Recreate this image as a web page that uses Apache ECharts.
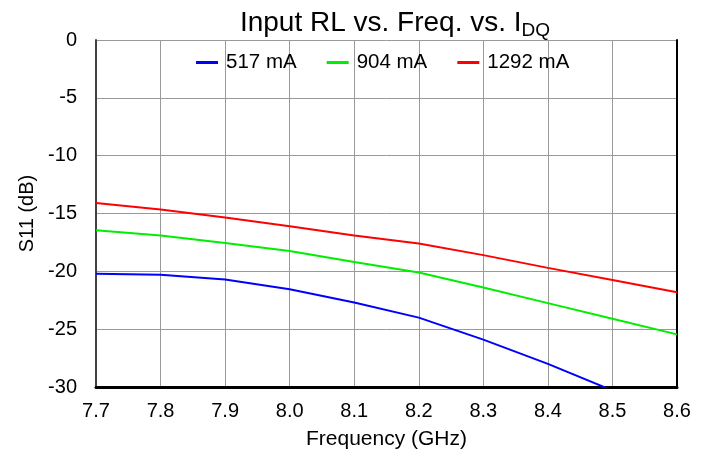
<!DOCTYPE html>
<html><head><meta charset="utf-8">
<script src="https://cdn.jsdelivr.net/npm/echarts@6/dist/echarts.min.js"></script>
<style>html,body{margin:0;padding:0;background:#fff}#c{width:708px;height:455px}</style>
</head><body><div id="c"></div>
<script>
const freqs = ['7.7','7.8','7.9','8.0','8.1','8.2','8.3','8.4','8.5','8.6'];
const s517 = [-20.2,-20.3,-20.7,-21.55,-22.7,-24.0,-25.9,-28.0,-30.3,-32.6];
const s904 = [-16.45,-16.9,-17.55,-18.25,-19.2,-20.1,-21.4,-22.75,-24.1,-25.45];
const s1292 = [-14.1,-14.65,-15.35,-16.1,-16.9,-17.6,-18.6,-19.7,-20.75,-21.8];
const yTicks = {min:-30, max:0, interval:5};
const names = ['517 mA','904 mA','1292 mA'];
const colors = ['#0000ff','#00ee00','#ff0000'];
const font = 'Liberation Sans, Arial, sans-serif';

const chart = echarts.init(document.getElementById('c'));
const series = [s517, s904, s1292].map((d,i)=>({
  name: names[i], type:'line', data:d, symbol:'none', clip:true,
  lineStyle:{width:2, color:colors[i]}, itemStyle:{color:colors[i]}, z:5
}));
chart.setOption({
  animation:false,
  title:{
    text:'{a|Input RL vs. Freq. vs. I}{b|DQ}',
    left:390, textAlign:'center', top:0,
    textStyle:{fontWeight:'normal', rich:{
      a:{fontFamily:font, fontSize:28, fontWeight:'normal', color:'#000', lineHeight:32, verticalAlign:'bottom'},
      b:{fontFamily:font, fontSize:19, fontWeight:'normal', color:'#000', lineHeight:32, verticalAlign:'bottom', padding:[0,0,-3,0]}
    }}
  },
  legend:{
    top:47, left:191, itemGap:30, itemWidth:22, itemHeight:3,
    icon:'rect', data:names,
    textStyle:{fontFamily:font, fontSize:20.5, color:'#000', padding:[0,0,0,3]}
  },
  grid:{left:96, right:31, top:40, bottom:68},
  xAxis:{
    type:'category', data:freqs, boundaryGap:false,
    name:'Frequency (GHz)', nameLocation:'middle', nameGap:42,
    nameTextStyle:{fontFamily:font, fontSize:21, color:'#000'},
    axisLine:{onZero:false, lineStyle:{color:'#000', width:3}},
    axisTick:{show:false},
    axisLabel:{fontFamily:font, fontSize:20, color:'#000', margin:14},
    splitLine:{show:true, lineStyle:{color:'#999', width:1}}
  },
  yAxis:[{
    type:'value', min:yTicks.min, max:yTicks.max, interval:yTicks.interval,
    name:'S11 (dB)', nameLocation:'middle', nameGap:57,
    nameTextStyle:{fontFamily:font, fontSize:20, color:'#000'},
    axisLine:{show:true, onZero:false, lineStyle:{color:'#404040', width:2}},
    axisTick:{show:false},
    axisLabel:{fontFamily:font, fontSize:20, color:'#000', margin:19},
    splitLine:{show:true, lineStyle:{color:'#999', width:1}}
  },{
    type:'value', position:'right', min:yTicks.min, max:yTicks.max, interval:yTicks.interval,
    axisLine:{show:true, onZero:false, lineStyle:{color:'#000', width:2}},
    axisTick:{show:false}, axisLabel:{show:false}, splitLine:{show:false}
  }],
  series: series
});
</script></body></html>
